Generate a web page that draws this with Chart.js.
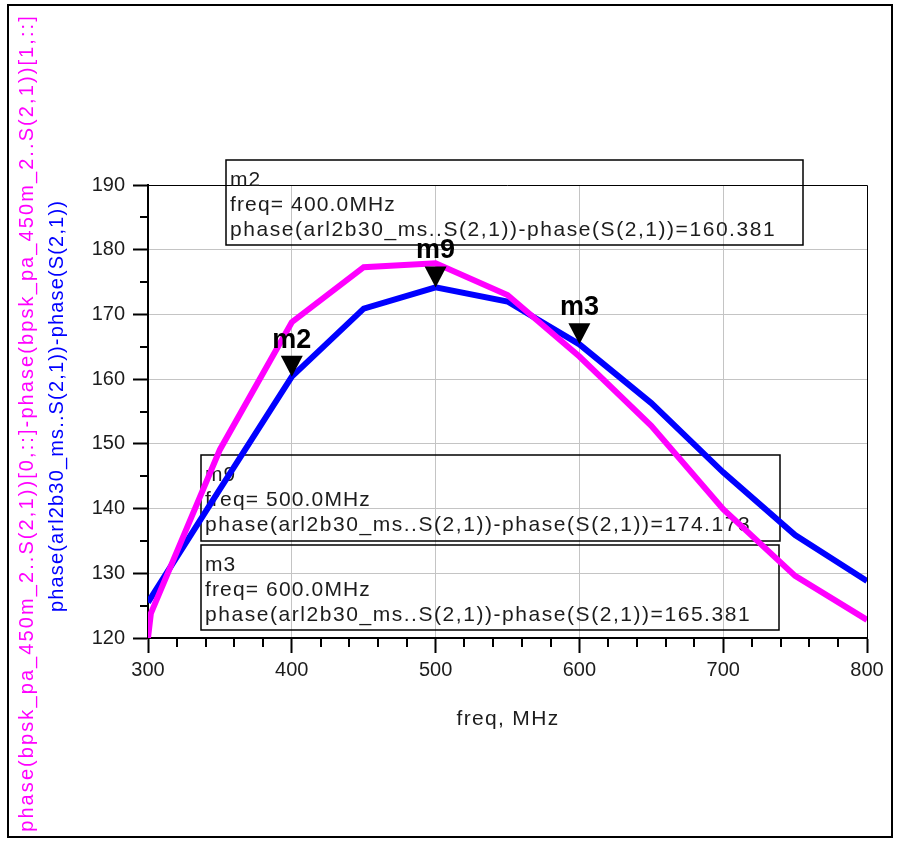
<!DOCTYPE html>
<html>
<head>
<meta charset="utf-8">
<title>phase difference vs freq</title>
<script src="https://cdn.jsdelivr.net/npm/chart.js@4.4.1/dist/chart.umd.min.js"></script>
<style>
  html, body { margin: 0; padding: 0; background: #fff; }
  #wrap { width: 899px; height: 841px; }
</style>
</head>
<body>
<div id="wrap"><canvas id="plot" width="899" height="841"></canvas></div>
<script>
// values
const freqBlue = [300, 350, 400, 450, 500, 550, 600, 650, 700, 750, 800];
const phaseBlue = [125.5, 143.0, 160.381, 170.9, 174.173, 172.0, 165.381, 156.3, 145.6, 135.9, 128.8];
const freqPink = [300, 302, 350, 400, 450, 500, 550, 600, 650, 700, 750, 800];
const phasePink = [120.0, 123.8, 149.1, 168.8, 177.3, 177.9, 173.0, 163.5, 152.8, 139.9, 129.6, 122.8];
const xTicks = [300, 400, 500, 600, 700, 800];
const yTicks = [120, 130, 140, 150, 160, 170, 180, 190];
const markerNames = ['m2', 'm9', 'm3'];
const markerFreq = [400, 500, 600];

const blueLabel = 'phase(arl2b30_ms..S(2,1))-phase(S(2,1))';
const pinkLabel = 'phase(bpsk_pa_450m_2..S(2,1))[0,::]-phase(bpsk_pa_450m_2..S(2,1))[1,::]';
const xLabel = 'freq, MHz';

const FONT = '"Liberation Sans", Arial, sans-serif';
const ink = '#1c1c1c';

// readout boxes: x, y, w, h
const boxes = [[226, 160, 577, 85], [201, 455, 579, 86], [201, 545, 578, 85]];

function markerValue(f) {
  return phaseBlue[freqBlue.indexOf(f)];
}

// draw text spread to a given width with letter spacing
function spaced(ctx, text, x, y, width) {
  ctx.letterSpacing = '0px';
  if (width) {
    const w = ctx.measureText(text).width;
    ctx.letterSpacing = ((width - w) / text.length).toFixed(2) + 'px';
  } else {
    ctx.letterSpacing = '1px';
  }
  ctx.fillText(text, x, y);
  ctx.letterSpacing = '0px';
}

const decor = {
  id: 'decor',
  beforeDraw(chart) {
    const ctx = chart.ctx;
    ctx.save();
    ctx.fillStyle = '#fff';
    ctx.fillRect(0, 0, chart.width, chart.height);
    ctx.strokeStyle = '#000';
    ctx.lineWidth = 2;
    ctx.strokeRect(8, 5, 884, 832);
    ctx.restore();
  },
  beforeDatasetsDraw(chart) {
    const ctx = chart.ctx;
    const a = chart.chartArea;
    const xs = chart.scales.x, ys = chart.scales.y;
    ctx.save();
    // frame on top and right
    ctx.strokeStyle = '#000';
    ctx.lineWidth = 1;
    ctx.beginPath();
    ctx.moveTo(a.left, a.top + 0.5);
    ctx.lineTo(a.right + 0.5, a.top + 0.5);
    ctx.lineTo(a.right + 0.5, a.bottom);
    ctx.stroke();
    // minor ticks
    ctx.lineWidth = 2;
    ctx.beginPath();
    for (let f = 320; f < 800; f += 20) {
      if (f % 100 === 0) continue;
      const px = Math.round(xs.getPixelForValue(f));
      ctx.moveTo(px, a.bottom);
      ctx.lineTo(px, a.bottom + 9);
    }
    for (let v = 125; v < 190; v += 10) {
      const py = Math.round(ys.getPixelForValue(v));
      ctx.moveTo(a.left, py);
      ctx.lineTo(a.left - 8, py);
    }
    ctx.stroke();
    // readout boxes
    ctx.lineWidth = 1.5;
    ctx.fillStyle = ink;
    ctx.font = '21px ' + FONT;
    ctx.textAlign = 'left';
    ctx.textBaseline = 'alphabetic';
    boxes.forEach((b, i) => {
      ctx.strokeRect(b[0], b[1], b[2], b[3]);
      const f = markerFreq[i];
      spaced(ctx, markerNames[i], b[0] + 4, b[1] + 26);
      spaced(ctx, 'freq= ' + f.toFixed(1) + 'MHz', b[0] + 4, b[1] + 51, 166);
      spaced(ctx, 'phase(arl2b30_ms..S(2,1))-phase(S(2,1))=' + markerValue(f).toFixed(3), b[0] + 4, b[1] + 76, 546);
    });
    ctx.restore();
  },
  afterDatasetsDraw(chart) {
    const ctx = chart.ctx;
    const xs = chart.scales.x, ys = chart.scales.y;
    ctx.save();
    // markers
    markerFreq.forEach((f, i) => {
      const px = xs.getPixelForValue(f);
      const py = ys.getPixelForValue(markerValue(f));
      ctx.fillStyle = '#000';
      ctx.beginPath();
      ctx.moveTo(px, py);
      ctx.lineTo(px - 11, py - 21);
      ctx.lineTo(px + 11, py - 21);
      ctx.closePath();
      ctx.fill();
      ctx.font = 'bold 27px ' + FONT;
      ctx.textAlign = 'center';
      ctx.fillText(markerNames[i], px, py - 29);
    });
    // axis titles
    ctx.font = '21px ' + FONT;
    ctx.fillStyle = ink;
    ctx.textAlign = 'center';
    spaced(ctx, xLabel, 508, 725, 103);
    ctx.font = '20px ' + FONT;
    ctx.save();
    ctx.translate(33, 423);
    ctx.rotate(-Math.PI / 2);
    ctx.fillStyle = '#ff00ff';
    spaced(ctx, pinkLabel, 0, 0, 818);
    ctx.restore();
    ctx.save();
    ctx.translate(63, 406);
    ctx.rotate(-Math.PI / 2);
    ctx.fillStyle = '#0000ff';
    spaced(ctx, blueLabel, 0, 0, 412);
    ctx.restore();
    ctx.restore();
  }
};

const edgeX = (c) => (c.tick && (c.tick.value === 300 || c.tick.value === 800)) ? 'rgba(0,0,0,0)' : '#c4c4c4';
const edgeY = (c) => (c.tick && (c.tick.value === 120 || c.tick.value === 190)) ? 'rgba(0,0,0,0)' : '#c4c4c4';

new Chart(document.getElementById('plot').getContext('2d'), {
  type: 'line',
  data: {
    datasets: [
      {
        label: blueLabel,
        data: freqBlue.map((f, i) => ({ x: f, y: phaseBlue[i] })),
        borderColor: '#0000ff',
        borderWidth: 6,
        pointRadius: 0,
        tension: 0,
        fill: false,
        order: 1,
      },
      {
        label: pinkLabel,
        data: freqPink.map((f, i) => ({ x: f, y: phasePink[i] })),
        borderColor: '#ff00ff',
        borderWidth: 6,
        pointRadius: 0,
        tension: 0,
        fill: false,
        order: 0,
      },
    ],
  },
  options: {
    responsive: false,
    animation: false,
    devicePixelRatio: 1,
    layout: { padding: { left: 0, top: 185, right: 32, bottom: 0 } },
    plugins: { legend: { display: false }, tooltip: { enabled: false } },
    scales: {
      x: {
        type: 'linear',
        min: 300,
        max: 800,
        afterBuildTicks: (s) => { s.ticks = xTicks.map((v) => ({ value: v })); },
        afterFit: (s) => { s.height = 203; },
        ticks: { color: ink, font: { family: FONT, size: 20 }, padding: 5, maxRotation: 0, autoSkip: false },
        grid: { color: edgeX, lineWidth: 1, tickLength: 15, tickColor: '#000', tickWidth: 2 },
        border: { color: '#000', width: 2 },
      },
      y: {
        min: 120,
        max: 190,
        afterBuildTicks: (s) => { s.ticks = yTicks.map((v) => ({ value: v })); },
        afterFit: (s) => { s.width = 148; },
        ticks: { color: ink, font: { family: FONT, size: 20 }, padding: 8, autoSkip: false },
        grid: { color: edgeY, lineWidth: 1, tickLength: 15, tickColor: '#000', tickWidth: 2 },
        border: { color: '#000', width: 2 },
      },
    },
  },
  plugins: [decor],
});
</script>
</body>
</html>
